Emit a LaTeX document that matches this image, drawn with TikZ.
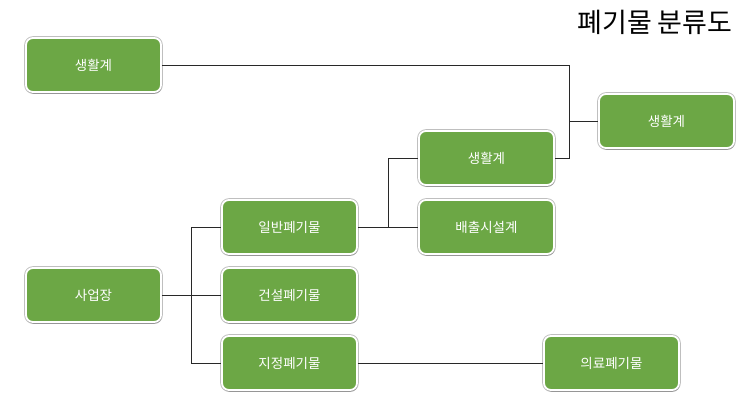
\documentclass[tikz,border=0pt]{standalone}
\usepackage{fontspec}
\setmainfont{Noto Sans CJK KR}
\definecolor{wastegreen}{RGB}{108, 167, 69}
\definecolor{linegray}{RGB}{40, 40, 40}
\usetikzlibrary{shadows}

\begin{document}
\begin{tikzpicture}[x=1pt, y=-1pt,
  every node/.style={font=\fontsize{13.5}{16}\selectfont},
  box/.style={draw=white, line width=1.8pt, fill=wastegreen, rounded corners=7pt,
    minimum width=135pt, minimum height=54pt, text=white,
    preaction={draw=black!25, line width=3.6pt, rounded corners=7pt},
    drop shadow={shadow xshift=0.6pt, shadow yshift=-1.8pt, opacity=0.35, fill=black!70}},
  link/.style={draw=linegray, line width=0.9pt}]
  \useasboundingbox (0,0) rectangle (743,415);
  % title
  \node[font=\fontsize{27}{30}\selectfont, anchor=east] (title) at (736,22) {폐기물 분류도};
  % boxes
  \node[box] (home1) at (93.5,65) {생활계};
  \node[box] (home3) at (666.5,121) {생활계};
  \node[box] (home2) at (486.5,158) {생활계};
  \node[box] (facility) at (486.5,227) {배출시설계};
  \node[box] (general) at (289.5,227) {일반폐기물};
  \node[box] (business) at (93.5,295) {사업장};
  \node[box] (build) at (289.5,295) {건설폐기물};
  \node[box] (special) at (289.5,363) {지정폐기물};
  \node[box] (medical) at (611.5,363) {의료폐기물};
  % connectors
  \coordinate (j1) at (569,121);
  \coordinate (j2) at (388,227);
  \coordinate (j3) at (191,295);
  \draw[link] (home1.east) -| (j1) |- (home2.east);
  \draw[link] (j1) -- (home3.west);
  \draw[link] (general.east) -- (j2);
  \draw[link] (j2) |- (home2.west);
  \draw[link] (j2) -- (facility.west);
  \draw[link] (business.east) -- (j3);
  \draw[link] (j3) |- (general.west);
  \draw[link] (j3) -- (build.west);
  \draw[link] (j3) |- (special.west);
  \draw[link] (special.east) -- (medical.west);
\end{tikzpicture}
\end{document}
